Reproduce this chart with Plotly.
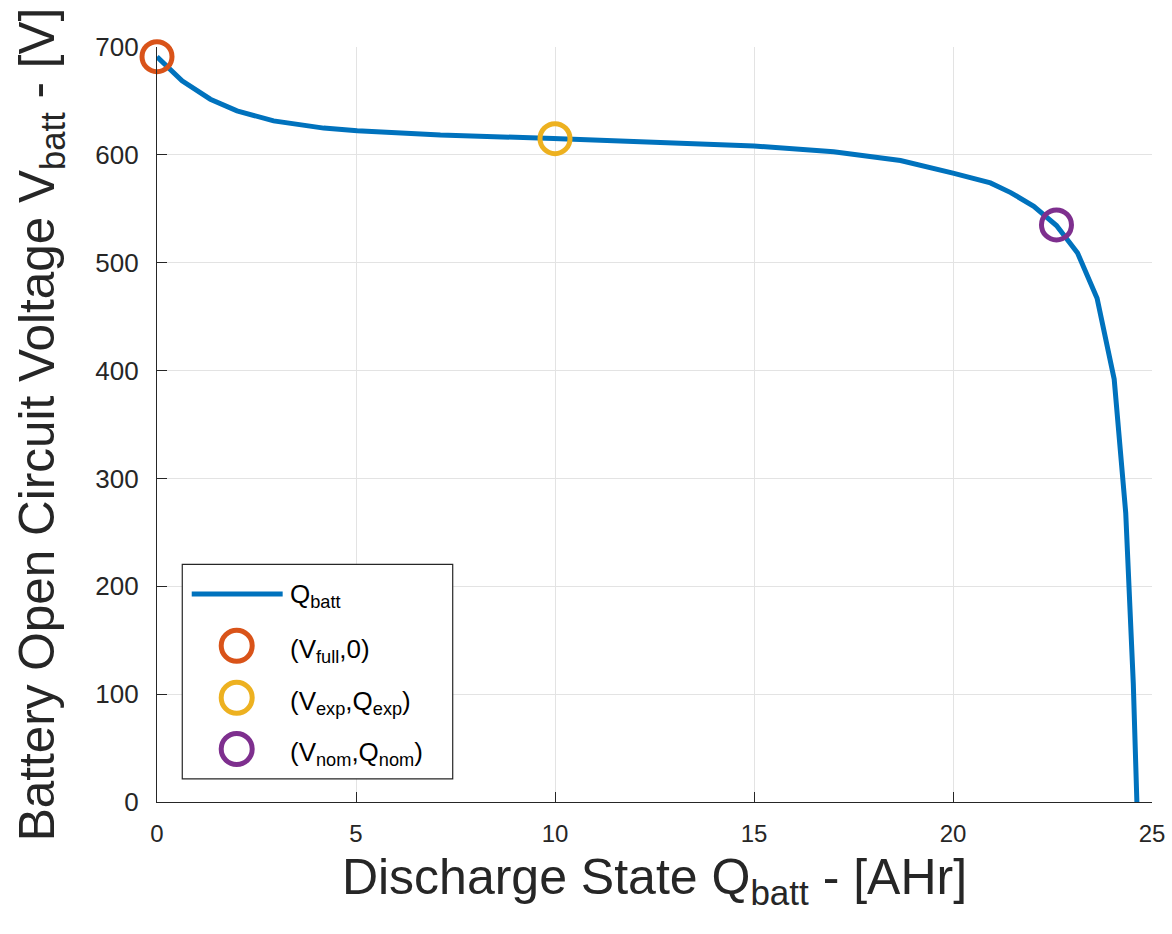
import plotly.graph_objects as go

# Battery discharge curve: open-circuit voltage vs. discharge state
q_batt = [0.0, 0.63, 1.34, 2.01, 2.93, 4.19, 5.03, 7.12, 9.96, 11.14, 13.65, 15.0,
          17.0, 18.68, 20.0, 20.94, 21.45, 22.03, 22.6, 23.13, 23.62, 24.05, 24.34,
          24.53, 24.62]
v_batt = [691.0, 668.6, 651.6, 640.8, 631.5, 624.8, 622.3, 618.3, 615.2, 613.4, 610.5,
          608.2, 602.8, 594.7, 583.0, 574.0, 565.0, 552.3, 534.5, 509.0, 467.0, 392.0,
          268.0, 110.0, 0.0]

# Characteristic points of the curve
point_names = ["(V<sub>full</sub>,0)", "(V<sub>exp</sub>,Q<sub>exp</sub>)",
               "(V<sub>nom</sub>,Q<sub>nom</sub>)"]
point_q = [0.0, 10.0, 22.6]
point_v = [691.0, 615.0, 535.0]
point_colors = ["#D95319", "#EDB120", "#7E2F8E"]

x_ticks = [0, 5, 10, 15, 20, 25]
y_ticks = [0, 100, 200, 300, 400, 500, 600, 700]

LINE_BLUE = "#0072BD"
AX_COLOR = "#262626"
GRID_COLOR = "#E3E3E3"
FONT = "Liberation Sans, Arial, Helvetica, sans-serif"

fig = go.Figure()

fig.add_trace(go.Scatter(
    x=q_batt, y=v_batt, mode="lines",
    line=dict(color=LINE_BLUE, width=5),
    name="Q<sub>batt</sub>", showlegend=False,
))

for name, q, v, c in zip(point_names, point_q, point_v, point_colors):
    fig.add_trace(go.Scatter(
        x=[q], y=[v], mode="markers", name=name, showlegend=False,
        cliponaxis=False,
        marker=dict(symbol="circle-open", size=30, color=c, line=dict(width=5)),
    ))

# Hand-laid legend box in the lower-left corner of the axes
L = dict(x0=0.0254, x1=0.2972, y0=0.0305, y1=0.3148)
shapes = [
    dict(type="rect", xref="paper", yref="paper", x0=L["x0"], x1=L["x1"],
         y0=L["y0"], y1=L["y1"], fillcolor="white",
         line=dict(color=AX_COLOR, width=1.2), layer="above"),
    dict(type="line", xref="paper", yref="paper", x0=0.0349, x1=0.1263,
         y0=0.2755, y1=0.2755, line=dict(color=LINE_BLUE, width=5), layer="above"),
]
entry_y = [0.2070, 0.1381, 0.0702]
annotations = [
    dict(xref="paper", yref="paper", x=0.1320, y=0.2755, xanchor="left",
         yanchor="middle", text="Q<sub>batt</sub>", showarrow=False, yshift=-2,
         font=dict(family=FONT, size=26, color="black")),
]
for name, c, yy in zip(point_names, point_colors, entry_y):
    shapes.append(dict(
        type="circle", xref="paper", yref="paper", xsizemode="pixel",
        ysizemode="pixel", xanchor=0.0801, yanchor=yy, x0=-15.5, x1=15.5,
        y0=-15.5, y1=15.5, line=dict(color=c, width=5), layer="above"))
    annotations.append(dict(
        xref="paper", yref="paper", x=0.1320, y=yy, xanchor="left",
        yanchor="middle", text=name, showarrow=False, yshift=-5,
        font=dict(family=FONT, size=26, color="black")))

fig.update_layout(
    width=1172, height=934,
    margin=dict(l=157, r=20, t=47, b=132),
    paper_bgcolor="white", plot_bgcolor="white",
    font=dict(family=FONT, color=AX_COLOR),
    shapes=shapes, annotations=annotations,
    showlegend=False,
)

fig.update_xaxes(
    range=[0, 25], tickvals=x_ticks, ticktext=[str(t) for t in x_ticks],
    showgrid=True, gridcolor=GRID_COLOR, gridwidth=1, zeroline=False,
    showline=True, linecolor=AX_COLOR, linewidth=1.3,
    ticks="inside", ticklen=10, tickcolor=AX_COLOR, tickwidth=1.2,
    ticklabelstandoff=10,
    tickfont=dict(family=FONT, size=24, color=AX_COLOR),
    title=dict(text="Discharge State Q<sub>batt</sub> - [AHr]", standoff=13,
               font=dict(family=FONT, size=50, color=AX_COLOR)),
    automargin=False,
)
fig.update_yaxes(
    range=[0, 700], tickvals=y_ticks, ticktext=[str(t) for t in y_ticks],
    showgrid=True, gridcolor=GRID_COLOR, gridwidth=1, zeroline=False,
    showline=True, linecolor=AX_COLOR, linewidth=1.3,
    ticks="inside", ticklen=10, tickcolor=AX_COLOR, tickwidth=1.2,
    ticklabelstandoff=12,
    tickfont=dict(family=FONT, size=26, color=AX_COLOR),
    title=dict(text="Battery Open Circuit Voltage V<sub>batt</sub> - [V]", standoff=24,
               font=dict(family=FONT, size=49.5, color=AX_COLOR)),
    automargin=False,
)

fig.write_html("out.html")
